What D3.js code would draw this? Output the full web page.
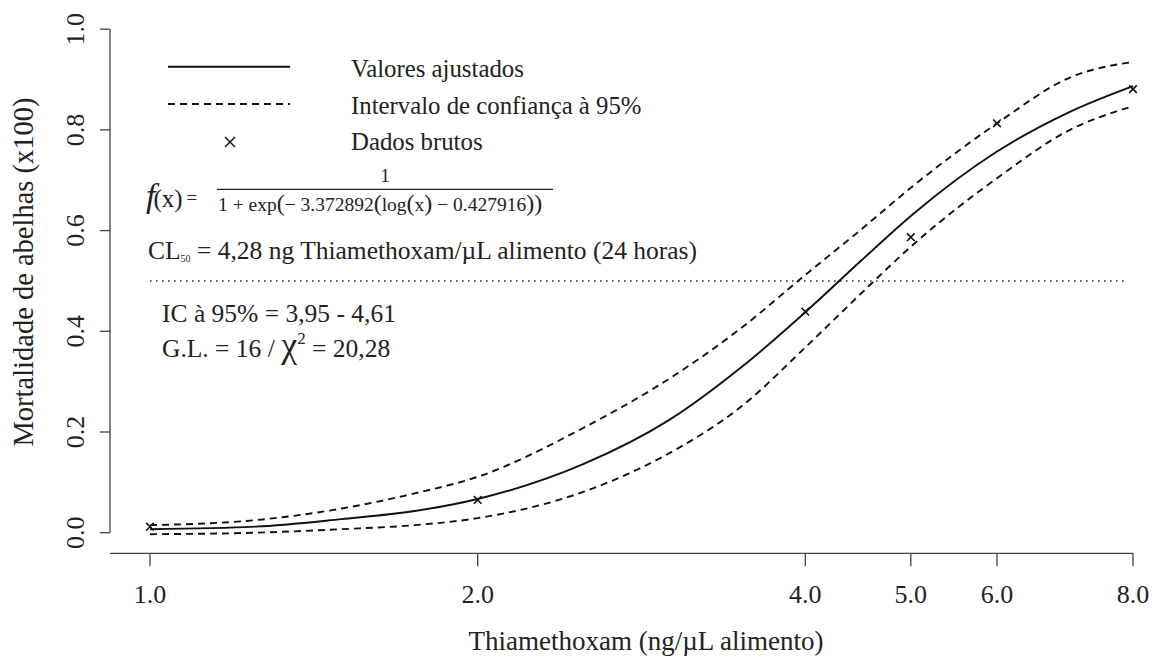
<!DOCTYPE html>
<html>
<head>
<meta charset="utf-8">
<script src="https://cdn.jsdelivr.net/npm/d3@7"></script>
<style>
  body { margin: 0; background: #fff; }
  svg text { font-family: "Liberation Serif", "Times New Roman", serif; fill: #222; }
</style>
</head>
<body>
<div id="chart"></div>
<script>
// raw data (crosses)
const doses = [1, 2, 4, 5, 6, 8];
const mortality = [0.012, 0.065, 0.439, 0.587, 0.813, 0.881];

// fitted curve + 95% band
const curveDoses = [1, 1.25, 1.5, 1.75, 2, 2.5, 3, 3.5, 4, 4.5, 5, 6, 7, 8];
const fitted = [0.007, 0.012, 0.027, 0.043, 0.067, 0.136, 0.224, 0.33, 0.438, 0.54, 0.629, 0.757, 0.836, 0.887];
const upper  = [0.015, 0.025, 0.048, 0.078, 0.111, 0.208, 0.306, 0.408, 0.512, 0.602, 0.685, 0.813, 0.904, 0.935];
const lower  = [-0.003, 0.0, 0.007, 0.015, 0.029, 0.081, 0.158, 0.252, 0.368, 0.475, 0.568, 0.704, 0.80, 0.847];

const xTicks = [1, 2, 4, 5, 6, 8];
const yTicks = [0, 0.2, 0.4, 0.6, 0.8, 1.0];
const cl50Line = 0.5;

const legendLabels = ['Valores ajustados', 'Intervalo de confiança à 95%', 'Dados brutos'];

var width = 1160, height = 664;

var svg = d3.select('#chart')
  .append('svg')
  .attr('width', width)
  .attr('height', height);

const x = d3.scaleLog()
  .domain([1, 8])
  .range([150, 1133]);

const y = d3.scaleLinear()
  .domain([0, 1])
  .range([532.7, 29.2]);

const axisColor = '#444';

// x axis (line runs a bit left of the first tick, like the original)
const xAxisY = 553.3;
svg.append('line')
  .attr('x1', 110).attr('x2', x(8))
  .attr('y1', xAxisY).attr('y2', xAxisY)
  .attr('stroke', axisColor).attr('stroke-width', 1.3);

const xg = svg.append('g');
xg.selectAll('line')
  .data(xTicks)
  .enter()
  .append('line')
  .attr('x1', d => x(d)).attr('x2', d => x(d))
  .attr('y1', xAxisY).attr('y2', xAxisY + 13)
  .attr('stroke', axisColor).attr('stroke-width', 1.3);
xg.selectAll('text')
  .data(xTicks)
  .enter()
  .append('text')
  .attr('x', d => x(d))
  .attr('y', 603)
  .attr('text-anchor', 'middle')
  .style('font-size', '26px')
  .text(d => d3.format('.1f')(d));

svg.append('text')
  .attr('x', 646)
  .attr('y', 650)
  .attr('text-anchor', 'middle')
  .style('font-size', '27px')
  .text('Thiamethoxam (ng/µL alimento)');

// y axis
const yAxisX = 110;
svg.append('line')
  .attr('x1', yAxisX).attr('x2', yAxisX)
  .attr('y1', y(0)).attr('y2', y(1))
  .attr('stroke', axisColor).attr('stroke-width', 1.3);

const yg = svg.append('g');
yg.selectAll('line')
  .data(yTicks)
  .enter()
  .append('line')
  .attr('x1', yAxisX - 10).attr('x2', yAxisX)
  .attr('y1', d => y(d)).attr('y2', d => y(d))
  .attr('stroke', axisColor).attr('stroke-width', 1.3);
yg.selectAll('text')
  .data(yTicks)
  .enter()
  .append('text')
  .attr('transform', d => `translate(84,${y(d)}) rotate(-90)`)
  .attr('text-anchor', 'middle')
  .style('font-size', '26px')
  .text(d => d3.format('.1f')(d));

svg.append('text')
  .attr('transform', 'translate(33,272) rotate(-90)')
  .attr('text-anchor', 'middle')
  .style('font-size', '28.5px')
  .text('Mortalidade de abelhas (x100)');

// 50% reference line
svg.append('line')
  .attr('x1', x(1)).attr('x2', x(8) - 5)
  .attr('y1', y(cl50Line)).attr('y2', y(cl50Line))
  .attr('stroke', '#333')
  .attr('stroke-width', 1.6)
  .attr('stroke-dasharray', '1.6,4.4');

// curves
const line = d3.line()
  .x(d => x(d[0]))
  .y(d => y(d[1]))
  .curve(d3.curveMonotoneX);

function drawCurve(values, dash) {
  svg.append('path')
    .datum(curveDoses.map((d, i) => [d, values[i]]))
    .attr('d', line)
    .attr('fill', 'none')
    .attr('stroke', '#111')
    .attr('stroke-width', 1.9)
    .attr('stroke-dasharray', dash);
}
drawCurve(upper, '7,5');
drawCurve(lower, '7,5');
drawCurve(fitted, null);

// raw data crosses
function cross(g, cx, cy, r, w) {
  g.append('line')
    .attr('x1', cx - r).attr('y1', cy - r).attr('x2', cx + r).attr('y2', cy + r)
    .attr('stroke', '#111').attr('stroke-width', w);
  g.append('line')
    .attr('x1', cx - r).attr('y1', cy + r).attr('x2', cx + r).attr('y2', cy - r)
    .attr('stroke', '#111').attr('stroke-width', w);
}
const pts = svg.append('g');
doses.forEach((d, i) => cross(pts, x(d), y(mortality[i]), 3.8, 1.6));

// legend
const leg = svg.append('g');
leg.append('line')
  .attr('x1', 168).attr('x2', 290).attr('y1', 66.7).attr('y2', 66.7)
  .attr('stroke', '#111').attr('stroke-width', 2);
leg.append('line')
  .attr('x1', 168).attr('x2', 290).attr('y1', 104).attr('y2', 104)
  .attr('stroke', '#111').attr('stroke-width', 1.9)
  .attr('stroke-dasharray', '7,5');
cross(leg, 230, 142, 5, 1.4);
leg.selectAll('text')
  .data(legendLabels)
  .enter()
  .append('text')
  .attr('x', 351)
  .attr('y', (d, i) => 77 + i * 36.5)
  .style('font-size', '24.8px')
  .text(d => d);

// formula
const ann = svg.append('g');
const fx = ann.append('text').attr('x', 146).attr('y', 207);
fx.append('tspan').style('font-style', 'italic').style('font-size', '34px').text('f');
fx.append('tspan').style('font-size', '25px').attr('dx', -2).text('(x)');
fx.append('tspan').style('font-size', '19px').attr('dx', 4).attr('dy', -3).text('=');

ann.append('line')
  .attr('x1', 217).attr('x2', 553).attr('y1', 189.3).attr('y2', 189.3)
  .attr('stroke', '#222').attr('stroke-width', 1.2);
ann.append('text')
  .attr('x', 385).attr('y', 182)
  .attr('text-anchor', 'middle')
  .style('font-size', '19.5px')
  .text('1');
const den = ann.append('text').attr('x', 218).attr('y', 211).style('font-size', '19.5px');
den.append('tspan').text('1 + exp');
den.append('tspan').style('font-size', '24px').text('(');
den.append('tspan').text('− 3.372892');
den.append('tspan').style('font-size', '24px').text('(');
den.append('tspan').text('log');
den.append('tspan').style('font-size', '24px').text('(');
den.append('tspan').text('x');
den.append('tspan').style('font-size', '24px').text(')');
den.append('tspan').text(' − 0.427916');
den.append('tspan').style('font-size', '24px').text('))');

// CL50 text
const cl = ann.append('text').attr('x', 148).attr('y', 258.5).style('font-size', '25.5px');
cl.append('tspan').text('CL');
cl.append('tspan').style('font-size', '10px').attr('dy', 3).text('50');
cl.append('tspan').attr('dy', -3).text(' = 4,28 ng Thiamethoxam/µL alimento (24 horas)');

ann.append('text')
  .attr('x', 162).attr('y', 321.5)
  .style('font-size', '25.5px')
  .text('IC à 95% = 3,95 - 4,61');

const gl = ann.append('text').attr('x', 162).attr('y', 357).style('font-size', '25.5px');
gl.append('tspan').text('G.L. = 16 / ');
gl.append('tspan').style('font-size', '36px').text('χ');
gl.append('tspan').style('font-size', '17px').attr('dy', -13).text('2');
gl.append('tspan').attr('dy', 13).text(' = 20,28');
</script>
</body>
</html>
